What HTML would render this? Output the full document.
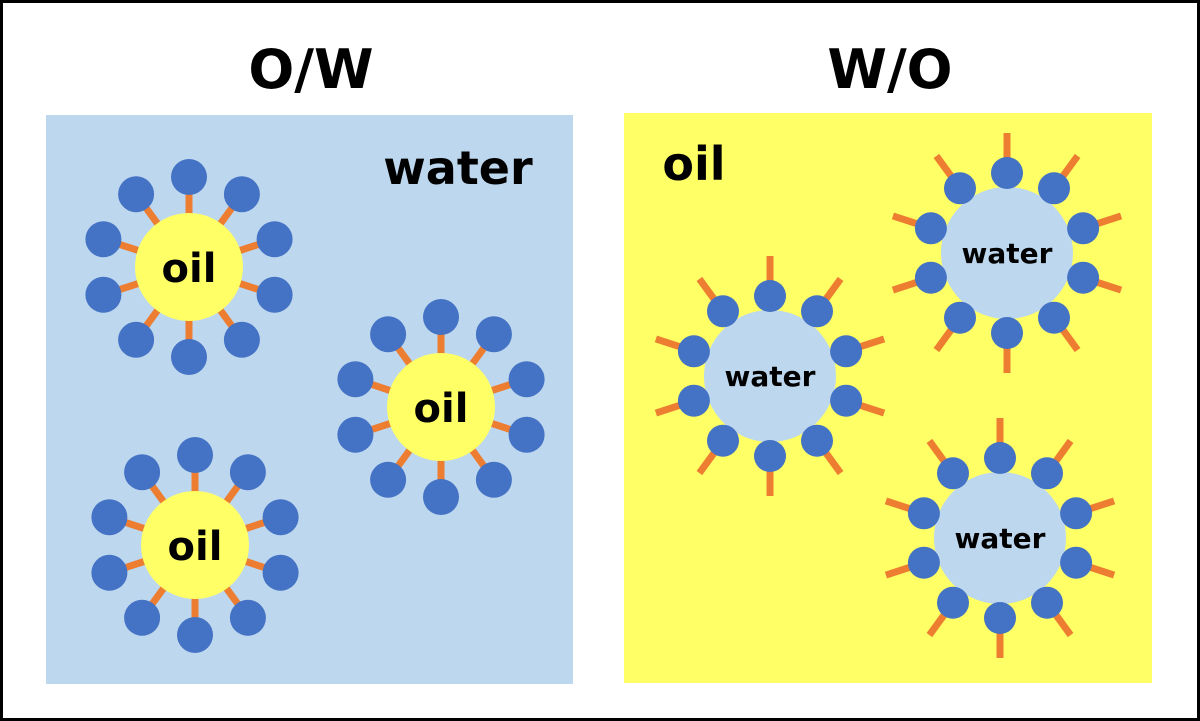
<!DOCTYPE html>
<html><head><meta charset="utf-8"><style>
html,body{margin:0;padding:0;background:#fff}
svg{display:block}
text{font-family:"DejaVu Sans","Liberation Sans",sans-serif;font-weight:bold;fill:#000}
</style></head><body>
<svg width="1200" height="721" viewBox="0 0 1200 721" xmlns="http://www.w3.org/2000/svg">
<defs>
<g id="ow">
<g stroke="#ed7d31" stroke-width="7">
<line x1="0" y1="0" x2="0" y2="-90"/><line x1="0" y1="0" x2="52.9" y2="-72.8"/><line x1="0" y1="0" x2="85.6" y2="-27.8"/><line x1="0" y1="0" x2="85.6" y2="27.8"/><line x1="0" y1="0" x2="52.9" y2="72.8"/><line x1="0" y1="0" x2="0" y2="90"/><line x1="0" y1="0" x2="-52.9" y2="72.8"/><line x1="0" y1="0" x2="-85.6" y2="27.8"/><line x1="0" y1="0" x2="-85.6" y2="-27.8"/><line x1="0" y1="0" x2="-52.9" y2="-72.8"/>
</g>
<circle r="54" fill="#ffff66"/>
<g fill="#4472c4">
<circle cx="0" cy="-90" r="18"/><circle cx="52.9" cy="-72.8" r="18"/><circle cx="85.6" cy="-27.8" r="18"/><circle cx="85.6" cy="27.8" r="18"/><circle cx="52.9" cy="72.8" r="18"/><circle cx="0" cy="90" r="18"/><circle cx="-52.9" cy="72.8" r="18"/><circle cx="-85.6" cy="27.8" r="18"/><circle cx="-85.6" cy="-27.8" r="18"/><circle cx="-52.9" cy="-72.8" r="18"/>
</g>
</g>
<g id="wo">
<g stroke="#ed7d31" stroke-width="7">
<line x1="0" y1="0" x2="0" y2="-120"/><line x1="0" y1="0" x2="70.6" y2="-97.1"/><line x1="0" y1="0" x2="114.1" y2="-37.1"/><line x1="0" y1="0" x2="114.1" y2="37.1"/><line x1="0" y1="0" x2="70.6" y2="97.1"/><line x1="0" y1="0" x2="0" y2="120"/><line x1="0" y1="0" x2="-70.6" y2="97.1"/><line x1="0" y1="0" x2="-114.1" y2="37.1"/><line x1="0" y1="0" x2="-114.1" y2="-37.1"/><line x1="0" y1="0" x2="-70.6" y2="-97.1"/>
</g>
<circle r="66" fill="#bdd7ee"/>
<g fill="#4472c4">
<circle cx="0" cy="-80" r="16"/><circle cx="47" cy="-64.7" r="16"/><circle cx="76.1" cy="-24.7" r="16"/><circle cx="76.1" cy="24.7" r="16"/><circle cx="47" cy="64.7" r="16"/><circle cx="0" cy="80" r="16"/><circle cx="-47" cy="64.7" r="16"/><circle cx="-76.1" cy="24.7" r="16"/><circle cx="-76.1" cy="-24.7" r="16"/><circle cx="-47" cy="-64.7" r="16"/>
</g>
</g>
</defs>
<rect x="1.5" y="1.5" width="1197" height="718" fill="#fff" stroke="#000" stroke-width="3"/>
<text x="311" y="88" font-size="54" text-anchor="middle">O/W</text>
<text x="890" y="88" font-size="54" text-anchor="middle">W/O</text>
<rect x="46" y="115" width="527" height="569" fill="#bdd7ee"/>
<rect x="624" y="113" width="528" height="570" fill="#ffff66"/>
<text x="458" y="184" font-size="46" text-anchor="middle">water</text>
<text x="694" y="180" font-size="46" text-anchor="middle">oil</text>
<use href="#ow" x="189" y="267"/>
<use href="#ow" x="441" y="407"/>
<use href="#ow" x="195" y="545"/>
<use href="#wo" x="770" y="376"/>
<use href="#wo" x="1007" y="253"/>
<use href="#wo" x="1000" y="538"/>
<g font-size="40" text-anchor="middle">
<text x="189" y="282">oil</text>
<text x="441" y="422">oil</text>
<text x="195" y="560">oil</text>
</g>
<g font-size="28" text-anchor="middle">
<text x="770" y="386">water</text>
<text x="1007" y="263">water</text>
<text x="1000" y="548">water</text>
</g>
</svg>
</body></html>
